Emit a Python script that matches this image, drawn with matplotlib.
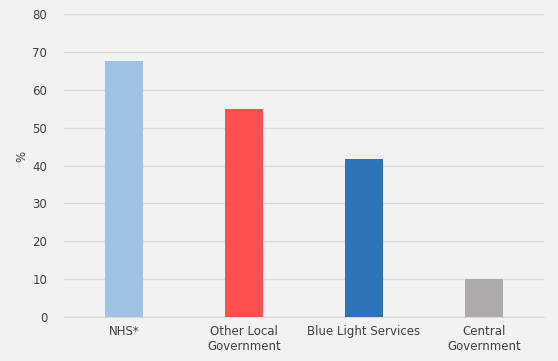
import matplotlib.pyplot as plt

# sector shares (%)
categories = ['NHS*', 'Other Local\nGovernment', 'Blue Light Services', 'Central\nGovernment']
values = [67.6, 54.8, 41.8, 9.9]
colours = ['#9DC3E6', '#FF5050', '#2E75B6', '#AEAAAA']
yticks = [0, 10, 20, 30, 40, 50, 60, 70, 80]

bg = '#F2F2F2'
text_c = '#404040'

fig = plt.figure(figsize=(5.58, 3.61), dpi=100, facecolor=bg)
ax = fig.add_axes([0.1147, 0.1219, 0.8602, 0.8393], facecolor=bg)

xs = range(len(categories))
ax.bar(xs, values, width=0.31, color=colours, zorder=3)

ax.set_xlim(-0.5, len(categories) - 0.5)
ax.set_ylim(0, 80)
ax.set_yticks(yticks)
ax.set_xticks(list(xs))
ax.set_xticklabels(categories, fontsize=8.5, color=text_c, linespacing=1.15)
ax.tick_params(axis='y', labelsize=8.5, labelcolor=text_c, length=0, pad=12)
ax.tick_params(axis='x', length=0, pad=6)

ax.yaxis.grid(True, color='#D9D9D9', linewidth=1, zorder=0)
for s in ['top', 'right', 'left']:
    ax.spines[s].set_visible(False)
ax.spines['bottom'].set_color('#D9D9D9')

ax.set_ylabel('%', fontsize=8.5, color=text_c, labelpad=3)
ax.yaxis.set_label_coords(-0.075, 0.53)

fig.savefig('out.png', dpi=100, facecolor=bg)
